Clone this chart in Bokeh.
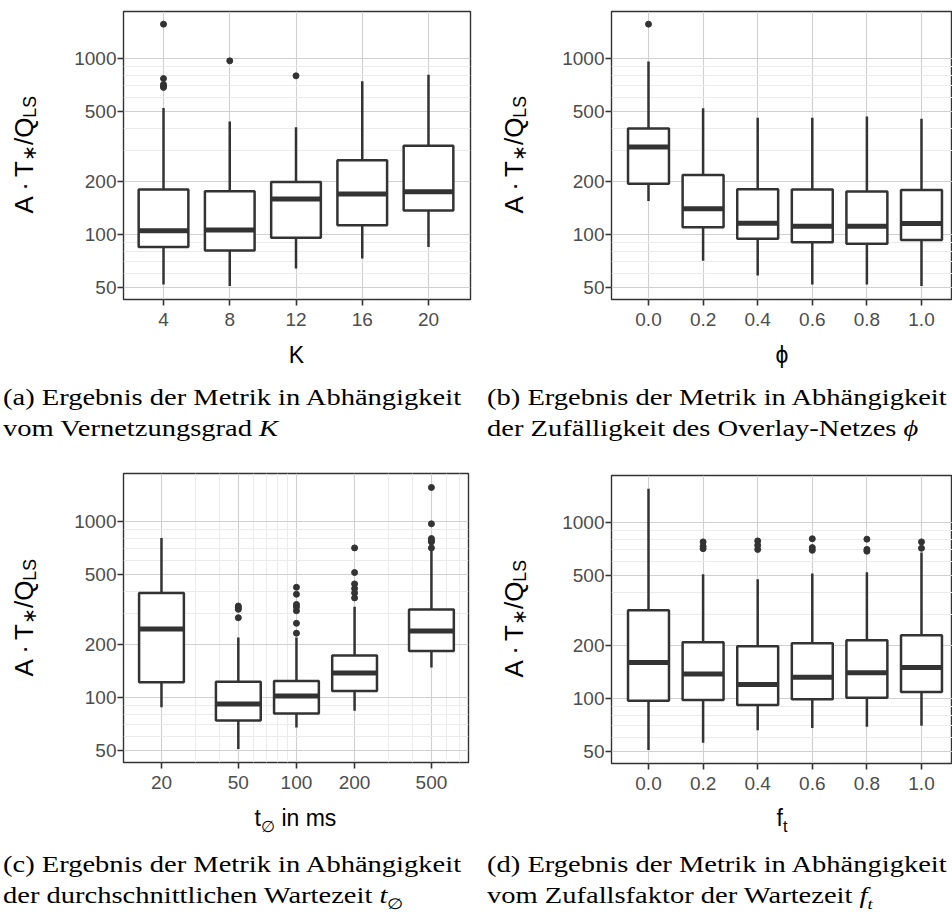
from bokeh.plotting import figure
from bokeh.layouts import row, column
from bokeh.models import Div, FixedTicker, Range1d
from bokeh.embed import file_html
from bokeh.resources import INLINE

# ---------------- data ----------------
# (a) K
k_labels = ["4", "8", "12", "16", "20"]
k_lower = [52, 51, 64, 73, 85]
k_q1 = [85, 81, 96, 113, 137]
k_median = [105, 106, 159, 170, 175]
k_q3 = [180, 176, 199, 264, 319]
k_upper = [524, 439, 407, 743, 808]
k_outliers = [[1567, 769, 712, 695, 685], [970], [797], [], []]

# (b) phi
phi_labels = ["0.0", "0.2", "0.4", "0.6", "0.8", "1.0"]
phi_lower = [155, 71, 58.5, 52, 52, 51]
phi_q1 = [194, 110, 94.5, 90.5, 88.5, 93]
phi_median = [314, 140, 116, 111.5, 111.5, 115.5]
phi_q3 = [400, 218, 181, 180, 175.5, 179]
phi_upper = [961, 522, 460, 460, 468, 454]
phi_outliers = [[1567], [], [], [], [], []]

# (c) t in ms (log x)
t_values = [20, 50, 100, 200, 500]
t_labels = ["20", "50", "100", "200", "500"]
t_lower = [88, 51, 67.5, 84, 148]
t_q1 = [122, 74, 81, 109, 184]
t_median = [245, 92, 102, 138, 239]
t_q3 = [393, 123, 124, 173, 316]
t_upper = [807, 219, 219, 328, 684]
t_outliers = [[], [331, 324, 317, 284],
              [423, 386, 338, 327, 311, 264, 232],
              [708, 513, 442, 416, 393, 368],
              [1561, 970, 800, 780, 766, 708]]

# (d) f_t
ft_labels = ["0.0", "0.2", "0.4", "0.6", "0.8", "1.0"]
ft_lower = [51, 56, 66, 68, 69, 70]
ft_q1 = [97, 98, 92, 99, 101, 109]
ft_median = [160, 138, 120, 132, 140, 150]
ft_q3 = [317, 209, 198, 206, 214, 229]
ft_upper = [1555, 508, 476, 513, 521, 675]
ft_outliers = [[], [776, 732, 710], [786, 742, 703], [808, 720, 695], [804, 703, 687], [776, 714]]

# y axis ticks
y_ticks = [50, 100, 200, 500, 1000]
y_tick_labels = ["50", "100", "200", "500", "1000"]
y_minor = [60, 70, 80, 90, 300, 400, 600, 700, 800, 900]
t_minor = [30, 40, 60, 70, 80, 90, 300, 400, 600, 700]

DARK = "#333333"
MAJOR_GRID = "#d0d0d0"
MINOR_GRID = "#ebebeb"
SANS = "Liberation Sans"


def style_fig(p, xticks, xlabels, xminor=None):
    p.outline_line_color = DARK
    p.outline_line_width = 1.4
    p.background_fill_color = "white"
    p.border_fill_color = "white"
    p.yaxis.ticker = FixedTicker(ticks=y_ticks, minor_ticks=y_minor)
    p.yaxis.major_label_overrides = dict(zip(y_ticks, y_tick_labels))
    p.xaxis.ticker = FixedTicker(ticks=xticks, minor_ticks=xminor or [])
    p.xaxis.major_label_overrides = dict(zip(xticks, xlabels))
    for ax in (p.xaxis, p.yaxis):
        ax.axis_line_color = None
        ax.major_tick_line_color = DARK
        ax.major_tick_line_width = 1.6
        ax.major_tick_in = 0
        ax.major_tick_out = 6
        ax.minor_tick_line_color = None
        ax.major_label_text_font = SANS
        ax.major_label_text_font_size = "19px"
        ax.major_label_text_color = "#4d4d4d"
    p.yaxis.major_label_standoff = 1
    p.xaxis.major_label_standoff = 7
    p.xgrid.grid_line_color = MAJOR_GRID
    p.xgrid.grid_line_width = 1.1
    p.ygrid.grid_line_color = MAJOR_GRID
    p.ygrid.grid_line_width = 1.1
    p.ygrid.minor_grid_line_color = MINOR_GRID
    p.ygrid.minor_grid_line_width = 1.0
    if xminor:
        p.xgrid.minor_grid_line_color = MINOR_GRID
        p.xgrid.minor_grid_line_width = 1.0


def draw_boxes(p, xs, lefts, rights, lower, q1, med, q3, upper, outliers):
    p.segment(xs, q3, xs, upper, line_color=DARK, line_width=2.5)
    p.segment(xs, q1, xs, lower, line_color=DARK, line_width=2.5)
    p.quad(left=lefts, right=rights, bottom=q1, top=q3, fill_color="white",
           line_color=DARK, line_width=2.5)
    p.segment(lefts, med, rights, med, line_color=DARK, line_width=5)
    ox, oy = [], []
    for x, outs in zip(xs, outliers):
        for v in outs:
            ox.append(x)
            oy.append(v)
    if ox:
        p.scatter(ox, oy, size=6, color=DARK)


def cat_fig(labels, lower, q1, med, q3, upper, outliers, width, height,
            x_start, x_end, y_start, y_end, mbl, mbr, mbt, mbb):
    p = figure(width=width, height=height, output_backend="svg", toolbar_location=None,
               title=None, y_axis_type="log",
               x_range=Range1d(x_start, x_end), y_range=Range1d(y_start, y_end),
               min_border_left=mbl, min_border_right=mbr, min_border_top=mbt,
               min_border_bottom=mbb, margin=0)
    xs = list(range(1, len(labels) + 1))
    lefts = [x - 0.375 for x in xs]
    rights = [x + 0.375 for x in xs]
    style_fig(p, xs, labels)
    draw_boxes(p, xs, lefts, rights, lower, q1, med, q3, upper, outliers)
    return p


def ylab_div(width, height, top, frame_h):
    html = (
        f'<div style="width:{width}px;height:{frame_h}px;margin-top:{top}px;'
        'display:flex;align-items:center;justify-content:center;">'
        '<div style="writing-mode:vertical-rl;transform:rotate(180deg);white-space:nowrap;'
        f"font-family:'{SANS}',sans-serif;font-size:26px;color:#000;line-height:1;\">"
        'A&#8201;·&#8201;T<sub style="font-size:72%;">∗</sub>/Q<sub style="font-size:68%;">LS</sub>'
        '</div></div>'
    )
    return Div(text=html, width=width, height=height, margin=0)


def xlab_div(width, height, left, frame_w, label_html):
    html = (
        f'<div style="width:{width}px;height:{height}px;">'
        f'<div style="margin-left:{left}px;width:{frame_w}px;text-align:center;'
        f"font-family:'{SANS}','DejaVu Sans',sans-serif;font-size:23px;color:#000;"
        f'line-height:{height}px;white-space:nowrap;">{label_html}</div></div>'
    )
    return Div(text=html, width=width, height=height, margin=0)


def cap_div(width, height, pad_top, pad_left, line1, line2):
    html = (
        f'<div style="width:{width}px;height:{height}px;overflow:hidden;">'
        f'<div style="padding-top:{pad_top}px;margin-left:{pad_left}px;'
        "font-family:'Liberation Serif',serif;font-size:23px;line-height:31px;color:#000;"
        'white-space:nowrap;transform:scaleX(1.24);transform-origin:0 0;">'
        f'{line1}<br>{line2}</div></div>'
    )
    return Div(text=html, width=width, height=height, margin=0)


# ---------------- panel (a) ----------------
pa = cat_fig(k_labels, k_lower, k_q1, k_median, k_q3, k_upper, k_outliers,
             width=434, height=336, x_start=0.396, x_end=5.634,
             y_start=42.73, y_end=1849.2, mbl=73, mbr=14, mbt=11, mbb=37)
panel_a = column(
    row(ylab_div(50, 336, 11, 288), pa),
    xlab_div(484, 38, 123, 347, "K"),
    cap_div(484, 88, 8, 3, "(a) Ergebnis der Metrik in Abhängigkeit",
            "vom Vernetzungsgrad <i>K</i>"),
)

# ---------------- panel (b) ----------------
pb = cat_fig(phi_labels, phi_lower, phi_q1, phi_median, phi_q3, phi_upper, phi_outliers,
             width=406, height=336, x_start=0.3223, x_end=6.568,
             y_start=42.73, y_end=1849.2, mbl=65, mbr=0, mbt=11, mbb=37)
panel_b = column(
    row(ylab_div(62, 336, 11, 288), pb),
    xlab_div(468, 38, 127, 342, "ϕ"),
    cap_div(468, 88, 8, 3, "(b) Ergebnis der Metrik in Abhängigkeit",
            "der Zufälligkeit des Overlay-Netzes <i>ϕ</i>"),
)

# ---------------- panel (c) ----------------
pc = figure(width=434, height=337, output_backend="svg", toolbar_location=None,
            title=None, x_axis_type="log", y_axis_type="log",
            x_range=Range1d(12.716, 777.9), y_range=Range1d(42.73, 1874.0),
            min_border_left=73, min_border_right=16, min_border_top=11,
            min_border_bottom=37, margin=0)
style_fig(pc, t_values, t_labels, t_minor)
half_w = 10 ** (0.232 / 2)
draw_boxes(pc, t_values, [v / half_w for v in t_values], [v * half_w for v in t_values],
           t_lower, t_q1, t_median, t_q3, t_upper, t_outliers)
panel_c = column(
    row(ylab_div(50, 337, 11, 289), pc),
    xlab_div(484, 38, 123, 345, "t<sub style=\"font-size:70%;\">∅</sub> in ms"),
    cap_div(484, 81, 12, 3, "(c) Ergebnis der Metrik in Abhängigkeit",
            "der durchschnittlichen Wartezeit <i>t</i><sub style=\"font-size:65%;\">∅</sub>"),
)

# ---------------- panel (d) ----------------
pd_ = cat_fig(ft_labels, ft_lower, ft_q1, ft_median, ft_q3, ft_upper, ft_outliers,
              width=406, height=337, x_start=0.3223, x_end=6.568,
              y_start=42.73, y_end=1849.2, mbl=65, mbr=0, mbt=13, mbb=36)
panel_d = column(
    row(ylab_div(62, 337, 13, 288), pd_),
    xlab_div(468, 38, 127, 342, "f<sub style=\"font-size:70%;\">t</sub>"),
    cap_div(468, 81, 12, 3, "(d) Ergebnis der Metrik in Abhängigkeit",
            "vom Zufallsfaktor der Wartezeit <i>f</i><sub style=\"font-size:65%;\"><i>t</i></sub>"),
)

layout = column(row(panel_a, panel_b), row(panel_c, panel_d))

with open("out.html", "w") as f:
    f.write(file_html(layout, INLINE))
